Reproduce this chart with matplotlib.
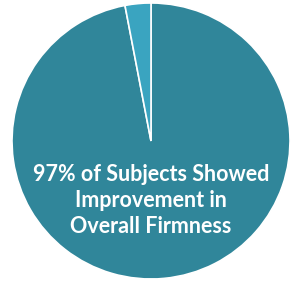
import matplotlib
matplotlib.use("Agg")
import matplotlib.pyplot as plt

labels = ["Showed Improvement", "No Improvement"]
values = [97, 3]
colors = ["#30869a", "#3aa4c0"]
caption = "97% of Subjects Showed\nImprovement in\nOverall Firmness"

fig = plt.figure(figsize=(2.97, 2.82), dpi=100)
ax = fig.add_axes([12/297, 3/282, 278/297, 276/282])
ax.pie(values, colors=colors, startangle=90, counterclock=False,
       wedgeprops=dict(edgecolor="white", linewidth=1.2))
ax.set_aspect("auto")
ax.set_xlim(-1, 1)
ax.set_ylim(-1, 1)
ax.text(0, -0.43, caption, ha="center", va="center", color="white",
        fontsize=15.5, fontweight="bold", family="Lato", linespacing=1.28)
fig.savefig("out.png", dpi=100)
